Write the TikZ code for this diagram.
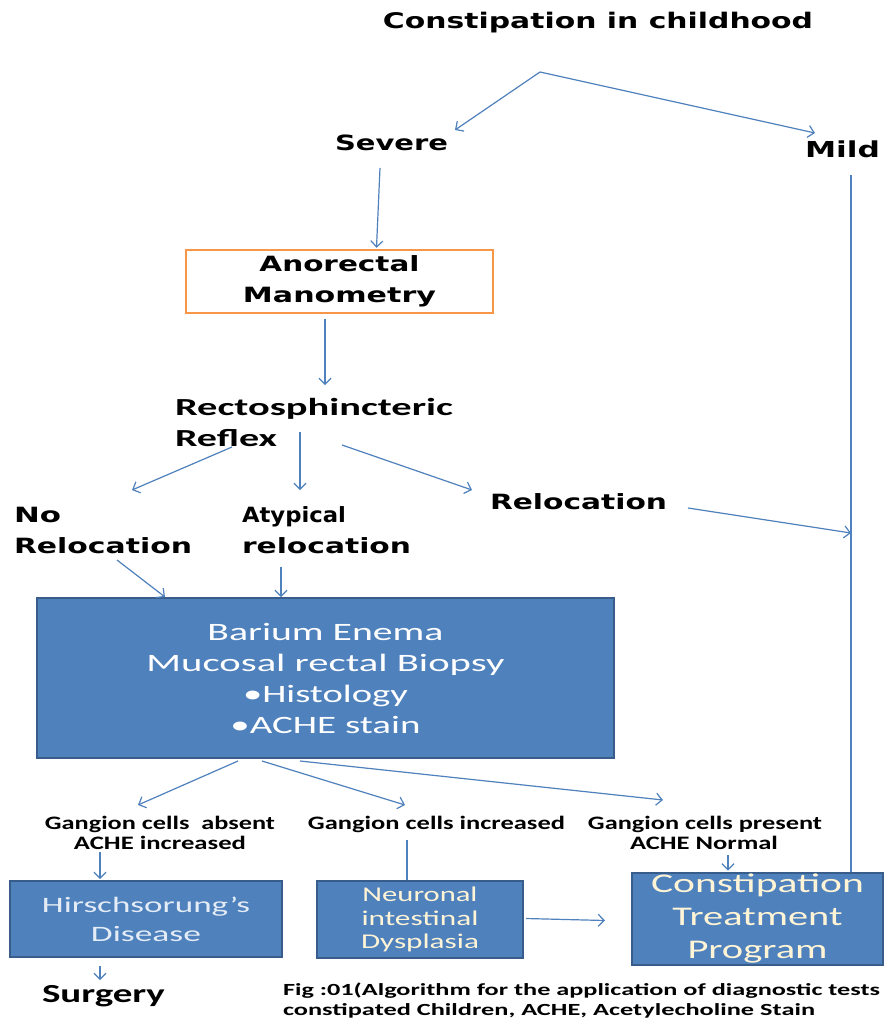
\documentclass[tikz,border=0pt]{standalone}
\usepackage{fontspec}
\usepackage{graphicx}
\usetikzlibrary{arrows.meta}
\newfontfamily\djv{DejaVu Sans}
\newfontfamily\carl{Carlito}
\newcommand\fitw[2]{\resizebox{#1}{\height}{#2}}
\definecolor{lnblue}{HTML}{4F81BD}
\definecolor{boxfill}{HTML}{4F81BD}
\definecolor{boxline}{HTML}{385D8A}
\definecolor{orng}{HTML}{F79646}
\definecolor{pale}{HTML}{E4ECF6}
\definecolor{cream}{HTML}{FFF4D6}
\tikzset{
  lbl/.style={inner sep=0pt,outer sep=0pt,anchor=base west},
  lblc/.style={inner sep=0pt,outer sep=0pt,anchor=base},
  vb/.style={font=\djv\bfseries\fontsize{21}{25}\selectfont},
  cbig/.style={font=\carl\bfseries\fontsize{24.5}{29}\selectfont},
  csmall/.style={font=\carl\bfseries\fontsize{19}{22}\selectfont},
  bluebox/.style={draw=boxline,fill=boxfill,line width=2pt,inner sep=0pt,align=center,text=white},
  conn/.style={draw=lnblue,line width=1.2pt,-{Straight Barb[length=6pt,width=12pt]}},
  plainline/.style={draw=lnblue,line width=1.2pt},
}
\begin{document}
\begin{tikzpicture}[x=1pt,y=-1pt]
\useasboundingbox (0,0) rectangle (884,1021);
\fill[white] (0,0) rectangle (884,1021);

% title and first split
\node[lblc,font=\djv\bfseries\fontsize{21.5}{26}\selectfont] (title) at (598,28) {\fitw{430pt}{Constipation in childhood}};
\coordinate (split) at (540,72);
\node[lbl,vb] (sev) at (335,150) {\fitw{113pt}{Severe}};
\node[lbl,font=\djv\bfseries\fontsize{22}{26}\selectfont] (mild) at (805,157) {\fitw{75pt}{Mild}};

% anorectal manometry
\node[draw=orng,line width=2.5pt,fill=white,minimum width=307pt,minimum height=63pt,inner sep=0pt,align=center,font=\djv\bfseries\fontsize{21}{31}\selectfont] (ano) at (339.5,281.5)
  {\raisebox{-3pt}{\fitw{160pt}{Anorectal}}\\\raisebox{-3pt}{\fitw{193pt}{Manometry}}};

% reflex
\node[lbl,cbig] (rect1) at (175,415) {\fitw{278pt}{Rectosphincteric}};
\node[lbl,cbig] (rect2) at (175,446) {\fitw{102pt}{Reflex}};

% outcomes
\node[lbl,vb] (no1) at (14,522) {\fitw{47pt}{No}};
\node[lbl,vb] (no2) at (14,553) {\fitw{178pt}{Relocation}};
\node[lbl,vb] (aty1) at (242,522) {\fitw{104pt}{Atypical}};
\node[lbl,vb] (aty2) at (242,553) {\fitw{169pt}{relocation}};
\node[lbl,vb] (reloc) at (490,509) {\fitw{177pt}{Relocation}};
\coordinate (mj) at (851,533);

% barium box
\node[bluebox,minimum width=577pt,minimum height=160pt,font=\carl\fontsize{25}{31}\selectfont] (bar) at (325.5,678)
  {\fitw{236pt}{Barium Enema}\\\fitw{358pt}{Mucosal rectal Biopsy}\\\fitw{165pt}{•Histology}\\\fitw{190pt}{•ACHE stain}};

% ganglion labels
\node[lblc,csmall] (g1a) at (160,829) {\fitw{230pt}{Gangion cells\ \ absent}};
\node[lblc,csmall] (g1b) at (160,849) {\fitw{172pt}{ACHE increased}};
\node[lblc,csmall] (g2) at (436.5,829) {\fitw{257pt}{Gangion cells increased}};
\node[lblc,csmall] (g3a) at (705,829) {\fitw{234pt}{Gangion cells present}};
\node[lblc,csmall] (g3b) at (704,849) {\fitw{148pt}{ACHE Normal}};

% bottom boxes
\node[bluebox,text=pale,minimum width=272pt,minimum height=76pt,font=\carl\fontsize{22}{29}\selectfont] (hir) at (146,919)
  {\fitw{208pt}{Hirschsorung’s}\\\fitw{110pt}{Disease}};
\node[bluebox,text=cream,minimum width=206pt,minimum height=77pt,font=\carl\fontsize{21}{23.5}\selectfont] (neu) at (420,919.5)
  {\raisebox{-2pt}{\fitw{115pt}{Neuronal}}\\\raisebox{-2pt}{\fitw{117pt}{intestinal}}\\\raisebox{-2pt}{\fitw{118pt}{Dysplasia}}};
\node[bluebox,text=cream,minimum width=251pt,minimum height=92pt,font=\carl\fontsize{27}{33}\selectfont] (ctp) at (757.5,918.5)
  {\raisebox{-2pt}{\fitw{213pt}{Constipation}}\\\raisebox{-2pt}{\fitw{170pt}{Treatment}}\\\raisebox{-2pt}{\fitw{140pt}{Program}}};

\node[lbl,font=\carl\bfseries\fontsize{26}{30}\selectfont] (surg) at (42,1002) {\fitw{123pt}{Surgery}};

% caption
\node[lbl,font=\carl\bfseries\fontsize{17}{20}\selectfont] (cap1) at (283,995) {\fitw{597pt}{Fig :01(Algorithm for the application of diagnostic tests}};
\node[lbl,font=\carl\bfseries\fontsize{17}{20}\selectfont] (cap2) at (283,1015) {\fitw{532pt}{constipated Children, ACHE, Acetylecholine Stain}};

% connectors
\draw[conn] (split) -- ([shift={(120,-20)}]sev.base west);
\draw[conn] (split) -- ([shift={(10,-24)}]mild.base west);
\draw[conn] ([shift={(45,18)}]sev.base west) -- ([shift={(37,-1)}]ano.north);
\draw[conn] ([shift={(-14.5,5)}]ano.south) -- ([shift={(150,-30)}]rect1.base west);
\draw[conn] ([shift={(57,1)}]rect2.base west) -- ([shift={(118,-32)}]no1.base west);
\draw[conn] ([shift={(125,-14)}]rect2.base west) -- ([shift={(58,-32)}]aty1.base west);
\draw[conn] ([shift={(167,-1)}]rect2.base west) -- ([shift={(-18,-19)}]reloc.base west);
\draw[conn] ([shift={(198,-1)}]reloc.base west) -- (mj);
\draw[plainline] ([shift={(46,18)}]mild.base west) -- ([shift={(93.5,0)}]ctp.north);
\draw[conn] ([shift={(103,7)}]no2.base west) -- ([shift={(-160.5,0)}]bar.north);
\draw[conn] ([shift={(39,14)}]aty2.base west) -- ([shift={(-44.5,0)}]bar.north);
\draw[conn] ([shift={(-87.5,2)}]bar.south) -- ([shift={(-22,-24)}]g1a.base);
\draw[conn] ([shift={(-63.5,2)}]bar.south) -- ([shift={(-31.5,-24)}]g2.base);
\draw[conn] ([shift={(-25.5,2)}]bar.south) -- ([shift={(-42,-29)}]g3a.base);
\draw[conn] ([shift={(-60,3)}]g1b.base) -- ([shift={(-46,-1)}]hir.north);
\draw[plainline] ([shift={(-29.5,11)}]g2.base) -- ([shift={(-13,0)}]neu.north);
\draw[conn] ([shift={(24,6)}]g3b.base) -- ([shift={(-29.5,-1)}]ctp.north);
\draw[conn] ([shift={(2,-1)}]neu.east) -- ([shift={(-26,2)}]ctp.west);
\draw[conn] ([shift={(-46,8)}]hir.south) -- ([shift={(58,-22)}]surg.base west);
\end{tikzpicture}
\end{document}
